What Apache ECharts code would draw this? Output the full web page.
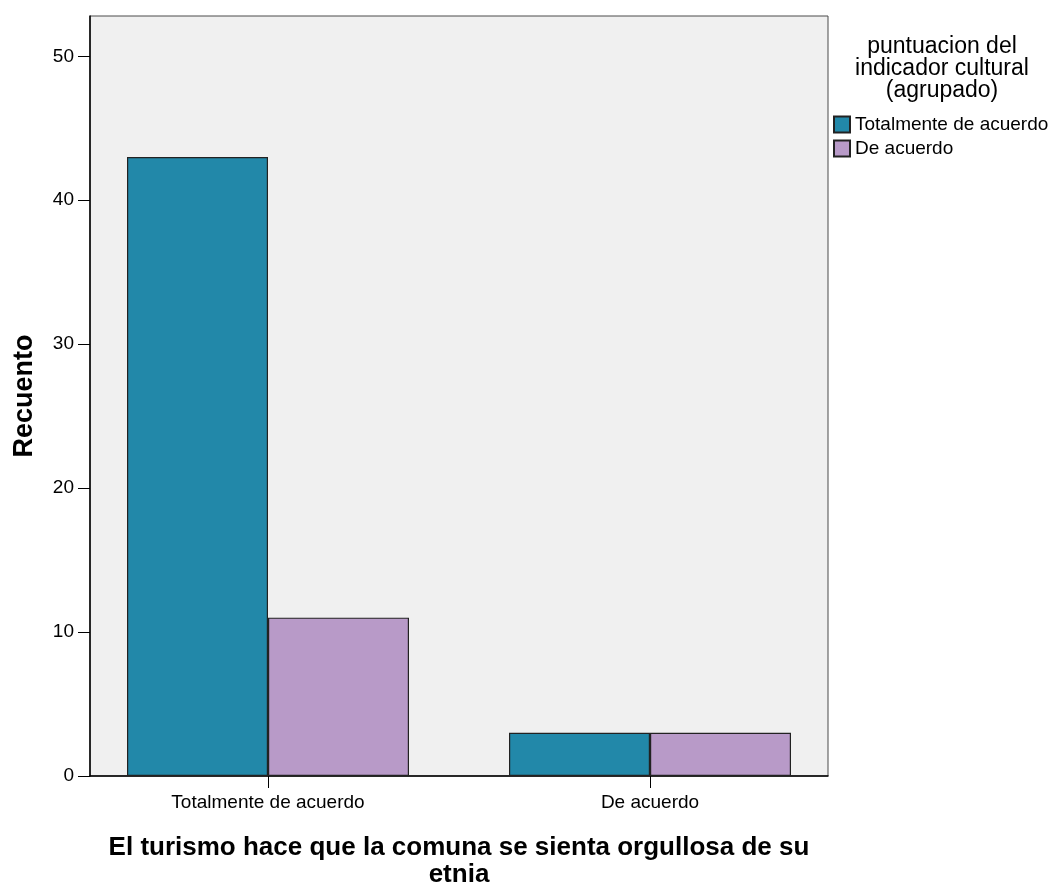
<!DOCTYPE html>
<html>
<head>
<meta charset="utf-8">
<script src="https://cdn.jsdelivr.net/npm/echarts@6/dist/echarts.min.js"></script>
<style>
html,body{margin:0;padding:0;background:#fff;}
#chart{width:1056px;height:882px;}
</style>
</head>
<body>
<div id="chart"></div>
<script>
const categories = ['Totalmente de acuerdo', 'De acuerdo'];
const seriesNames = ['Totalmente de acuerdo', 'De acuerdo'];
const totalmenteValues = [43, 3];
const deAcuerdoValues = [11, 3];
const yTicks = [0, 10, 20, 30, 40, 50];
const yMax = 52.8;
const legendTitle = 'puntuacion del\nindicador cultural\n(agrupado)';
const xTitle = 'El turismo hace que la comuna se sienta orgullosa de su\netnia';
const yTitle = 'Recuento';

const FONT = '"Liberation Sans", Arial, sans-serif';
const colors = ['#2288a9', '#b89ac8'];

const chart = echarts.init(document.getElementById('chart'), null, {renderer: 'canvas'});
chart.setOption({
  animation: false,
  backgroundColor: '#ffffff',
  textStyle: {fontFamily: FONT},
  grid: [
    {left: 77, right: 215, top: 16, bottom: 106, show: false, containLabel: false, outerBoundsMode: 'none'},
    {left: 90, right: 228, top: 16, bottom: 106, show: true, backgroundColor: '#f0f0f0',
     borderColor: '#4a4a4a', borderWidth: 1, containLabel: false, outerBoundsMode: 'none', z: 0}
  ],
  xAxis: [
    {type: 'category', gridIndex: 0, data: categories,
     axisLine: {show: false},
     axisTick: {show: true, alignWithLabel: true, length: 12, lineStyle: {color: '#000', width: 1}},
     axisLabel: {fontFamily: FONT, fontSize: 19, color: '#000', margin: 17},
     splitLine: {show: false}},
    {type: 'value', gridIndex: 1, min: 0, max: 1,
     axisLine: {show: true, onZero: false, lineStyle: {color: '#000', width: 1.5}},
     axisTick: {show: false}, axisLabel: {show: false}, splitLine: {show: false},
     name: xTitle, nameLocation: 'middle', nameGap: 58,
     nameTextStyle: {fontFamily: FONT, fontSize: 26, fontWeight: 'bold', color: '#000', lineHeight: 27, align: 'center'}}
  ],
  yAxis: [
    {type: 'value', gridIndex: 0, min: 0, max: yMax, show: false, splitLine: {show: false}},
    {type: 'value', gridIndex: 1, min: 0, max: yMax, interval: 10,
     axisLine: {show: true, lineStyle: {color: '#000', width: 1.5}},
     axisTick: {show: true, length: 12, customValues: yTicks, lineStyle: {color: '#000', width: 1}},
     axisLabel: {fontFamily: FONT, fontSize: 19, color: '#000', margin: 16, customValues: yTicks},
     splitLine: {show: false},
     name: yTitle, nameLocation: 'middle', nameGap: 52, nameRotate: 90,
     nameTextStyle: {fontFamily: FONT, fontSize: 27, fontWeight: 'bold', color: '#000'}}
  ],
  legend: {
    orient: 'vertical', left: 833, top: 115, padding: 0,
    itemWidth: 16, itemHeight: 16, itemGap: 5, icon: 'rect',
    data: seriesNames,
    textStyle: {fontFamily: FONT, fontSize: 19, color: '#000'}
  },
  graphic: [
    {type: 'text', x: 942, y: 36, z: 10,
     style: {text: legendTitle, fontFamily: FONT, fontSize: 23, lineHeight: 22, fill: '#000', align: 'center', verticalAlign: 'top'},
     silent: true}
  ],
  series: [
    {name: seriesNames[0], type: 'bar', xAxisIndex: 0, yAxisIndex: 0, data: totalmenteValues,
     barWidth: 141, barGap: '0%', z: 3,
     itemStyle: {color: colors[0], borderColor: '#222', borderWidth: 1.2}},
    {name: seriesNames[1], type: 'bar', xAxisIndex: 0, yAxisIndex: 0, data: deAcuerdoValues,
     barWidth: 141, barGap: '0%', z: 3,
     itemStyle: {color: colors[1], borderColor: '#222', borderWidth: 1.2}}
  ]
});
</script>
</body>
</html>
